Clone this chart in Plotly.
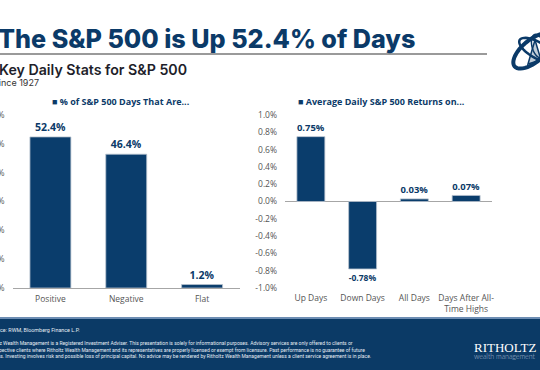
import math
import plotly.graph_objects as go

W, H = 540, 370

# ---- data ----
left_categories = ["Positive", "Negative", "Flat"]
left_values = [52.4, 46.4, 1.2]
left_labels = ["52.4%", "46.4%", "1.2%"]

right_categories = ["Up Days", "Down Days", "All Days", "Days After All-<br>Time Highs"]
right_values = [0.75, -0.78, 0.03, 0.07]
right_labels = ["0.75%", "-0.78%", "0.03%", "0.07%"]

left_ticks = [0, 10, 20, 30, 40, 50, 60]
left_tick_text = ["0%", "10%", "20%", "30%", "40%", "50%", "60%"]
right_ticks = [-1.0, -0.8, -0.6, -0.4, -0.2, 0.0, 0.2, 0.4, 0.6, 0.8, 1.0]
right_tick_text = [f"{v:.1f}%" for v in right_ticks]

NAVY = "#0b3a68"
BAR = "#0a3d6c"
GRAY = "#555555"


def px(x):
    return x / W


def py(y):
    return 1 - y / H


fig = go.Figure()
fig.add_trace(go.Bar(
    x=left_categories, y=left_values, text=left_labels, textposition="outside",
    marker=dict(color=BAR, line=dict(color="#b9c3cf", width=0.8)),
    textfont=dict(family="Open Sans", size=10.5, color=NAVY, weight=700),
    cliponaxis=False, xaxis="x", yaxis="y", showlegend=False, hoverinfo="skip",
))
fig.add_trace(go.Bar(
    x=right_categories, y=right_values, text=right_labels, textposition="outside",
    marker=dict(color=BAR, line=dict(color="#b9c3cf", width=0.8)),
    textfont=dict(family="Open Sans", size=10.5, color=NAVY, weight=700),
    cliponaxis=False, xaxis="x2", yaxis="y2", showlegend=False, hoverinfo="skip",
))

yd = [py(288), py(115)]
axis_font = dict(family="Open Sans", size=8.5, color=GRAY)

fig.update_layout(
    width=W, height=H, template="none",
    margin=dict(l=0, r=0, t=0, b=0),
    paper_bgcolor="white", plot_bgcolor="white",
    bargap=0.46,
    xaxis=dict(domain=[px(12.5), px(240)], anchor="y", showline=True, linecolor="#a6a6a6",
               linewidth=1.2, showgrid=False, ticks="", tickfont=axis_font,
               automargin=False, fixedrange=True, ticklabelstandoff=3),
    yaxis=dict(domain=yd, range=[0, 60], tickvals=left_ticks, ticktext=left_tick_text,
               showgrid=False, zeroline=False, showline=False, ticks="", tickfont=axis_font,
               automargin=False, ticklabelstandoff=7),
    xaxis2=dict(domain=[px(285), px(492)], anchor="free", position=py(288), showline=False,
                showgrid=False, ticks="", tickfont=axis_font, automargin=False,
                ticklabelstandoff=3),
    yaxis2=dict(domain=yd, range=[-1, 1], tickvals=right_ticks, ticktext=right_tick_text,
                anchor="x2", showgrid=False, zeroline=True, zerolinecolor="#a6a6a6",
                zerolinewidth=1.2, showline=False, ticks="", tickfont=axis_font,
                automargin=False, ticklabelstandoff=7),
)

shapes = []
# title underline
shapes.append(dict(type="line", xref="paper", yref="paper", x0=px(0), x1=px(487),
                   y0=py(54), y1=py(54), line=dict(color="#9a9a9a", width=2)))
# footer band
shapes.append(dict(type="rect", xref="paper", yref="paper", x0=0, x1=1, y0=0, y1=py(318),
                   fillcolor="#0b3a66", line=dict(width=0), layer="above"))
shapes.append(dict(type="line", xref="paper", yref="paper", x0=0, x1=1, y0=py(318), y1=py(318),
                   line=dict(color="#6d8db3", width=2)))


# logo: tilted ellipses (decoration)
def ellipse_path(cx, cy, rx, ry, ang_deg, n=48):
    a = math.radians(ang_deg)
    pts = []
    for i in range(n + 1):
        t = 2 * math.pi * i / n
        ex, ey = rx * math.cos(t), ry * math.sin(t)
        x = cx + ex * math.cos(a) - ey * math.sin(a)
        y = cy + ex * math.sin(a) + ey * math.cos(a)
        pts.append((px(x), py(y)))
    return "M " + " L ".join(f"{x:.5f},{y:.5f}" for x, y in pts) + " Z"


shapes.append(dict(type="path", xref="paper", yref="paper",
                   path=ellipse_path(533, 51, 24, 11, -40), line=dict(color=NAVY, width=4)))
shapes.append(dict(type="path", xref="paper", yref="paper",
                   path=ellipse_path(537, 50, 20, 8, 30), line=dict(color=NAVY, width=2.5)))
shapes.append(dict(type="path", xref="paper", yref="paper",
                   path=ellipse_path(538, 46, 12, 6, 75), line=dict(color=NAVY, width=1.5)))
shapes.append(dict(type="path", xref="paper", yref="paper",
                   path=f"M {px(528)},{py(64)} L {px(535)},{py(40)} L {px(541)},{py(60)} Z",
                   line=dict(color=NAVY, width=1.5), fillcolor="rgba(11,58,104,0.25)"))
fig.update_layout(shapes=shapes)

ann = []


def add_text(x, y, text, size, color, family="Open Sans", weight=400, xanchor="left", **kw):
    ann.append(dict(x=px(x), y=py(y), xref="paper", yref="paper", text=text, showarrow=False,
                    xanchor=xanchor, yanchor="middle",
                    font=dict(family=family, size=size, color=color, weight=weight), **kw))


add_text(-4, 39, "The S&P 500 is Up 52.4% of Days", 25.2, NAVY, family="Inter", weight=800)
add_text(-3, 69.5, "Key Daily Stats for S&P 500", 14.2, "#1e1e2a", family="Inter", weight=600)
add_text(-9, 82.5, "Since 1927", 9, "#333333", family="Inter")
add_text(50, 101, "■ % of S&P 500 Days That Are...", 9, NAVY, weight=700)
add_text(296, 101, "■ Average Daily S&P 500 Returns on...", 9, NAVY, weight=700)

FOOT = "#e6ecf3"
add_text(82, 329.5, "Source: RWM, Bloomberg Finance L.P.", 5.4, FOOT, family="Roboto", xanchor="right")
add_text(355, 343, "Ritholtz Wealth Management is a Registered Investment Adviser. This presentation is solely for informational purposes. Advisory services are only offered to clients or", 5.0, FOOT, family="Roboto", xanchor="right")
add_text(367, 349.5, "prospective clients where Ritholtz Wealth Management and its representatives are properly licensed or exempt from licensure. Past performance is no guarantee of future", 5.0, FOOT, family="Roboto", xanchor="right")
add_text(373, 356, "returns. Investing involves risk and possible loss of principal capital. No advice may be rendered by Ritholtz Wealth Management unless a client service agreement is in place.", 5.0, FOOT, family="Roboto", xanchor="right")
add_text(472, 347, "RITHOLTZ", 13, "white", family="Liberation Serif", weight=400)
add_text(472, 355.5, "wealth management", 7, "#aebfd4", family="Lato", weight=300)
fig.update_layout(annotations=ann)

fig.write_html("out.html", config={"displayModeBar": False},
               post_script="document.body.style.margin='0';document.body.style.overflow='hidden';")
